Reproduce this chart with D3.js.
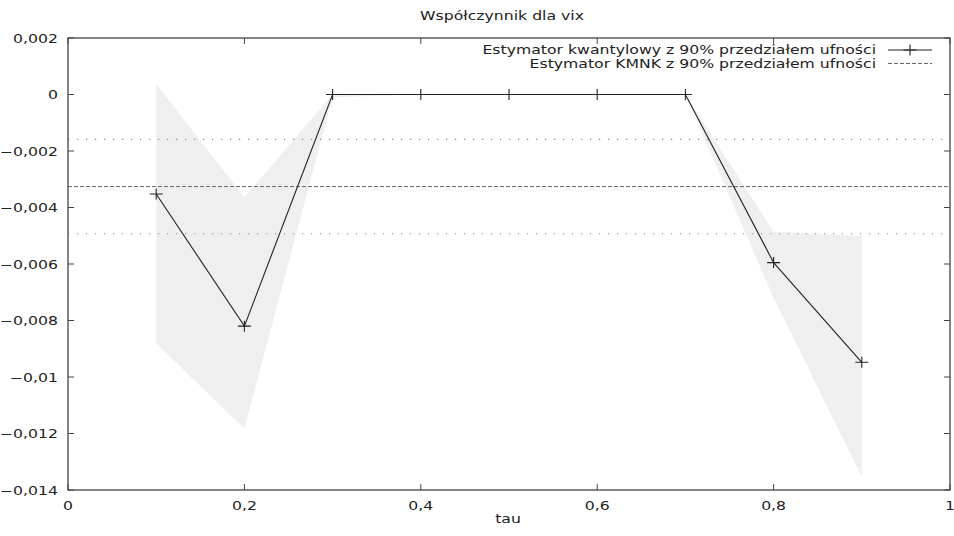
<!DOCTYPE html>
<html><head><meta charset="utf-8">
<script src="https://cdn.jsdelivr.net/npm/d3@7"></script>
<style>body{margin:0;background:#fff}svg{display:block}text{font-family:"DejaVu Sans",Verdana,sans-serif;fill:#222}</style>
</head><body><svg id="c" width="954" height="536"></svg>
<script>
const taus = [0.1, 0.2, 0.3, 0.4, 0.5, 0.6, 0.7, 0.8, 0.9];
const quantEst = [-0.00352, -0.0082, 0, 0, 0, 0, 0, -0.00595, -0.00948];
const quantUpper = [0.00037, -0.00364, 0, 0, 0, 0, 0, -0.00486, -0.00501];
const quantLower = [-0.00881, -0.01182, -0.0001, 0, 0, 0, 0, -0.0072, -0.01353];
const olsEst = -0.00326;
const olsLower = -0.00493;
const olsUpper = -0.00159;
const xTicks = [0, 0.2, 0.4, 0.6, 0.8, 1];
const yTicks = [0.002, 0, -0.002, -0.004, -0.006, -0.008, -0.01, -0.012, -0.014];
const title = "Współczynnik dla vix";
const xLabel = "tau";
const legendLabels = ["Estymator kwantylowy z 90% przedziałem ufności", "Estymator KMNK z 90% przedziałem ufności"];

const svg = d3.select("#c");
const L = 68, R = 950, T = 38, B = 490;
const x = d3.scaleLinear().domain([0, 1]).range([L, R]);
const y = d3.scaleLinear().domain([-0.014, 0.002]).range([B, T]);
const SX = 1.33, FS = 11.8;
const fmt = v => (v === 0 ? "0" : d3.format("")(+v.toFixed(3))).replace(".", ",").replace("-", "\u2212");

function label(px, py, str, anchor) {
  svg.append("text")
    .attr("transform", `translate(${px},${py}) scale(${SX},1)`)
    .attr("text-anchor", anchor)
    .attr("font-size", FS)
    .text(str);
}

// band
const bandData = taus.map((t, i) => ({t, lo: quantLower[i], hi: quantUpper[i]}));
svg.append("path").datum(bandData)
  .attr("d", d3.area().x(d => x(d.t)).y0(d => y(d.lo)).y1(d => y(d.hi)))
  .attr("fill", "#efefef");

// OLS lines
[olsUpper, olsLower].forEach(v => {
  svg.append("line").attr("x1", L).attr("x2", R).attr("y1", y(v)).attr("y2", y(v))
    .attr("stroke", "#888").attr("stroke-width", 1.2).attr("stroke-dasharray", "1.2,7.8");
});
svg.append("line").attr("x1", L).attr("x2", R).attr("y1", y(olsEst)).attr("y2", y(olsEst))
  .attr("stroke", "#666").attr("stroke-width", 1).attr("stroke-dasharray", "4,2");

// quantile line
const pts = taus.map((t, i) => ({t, v: quantEst[i]}));
svg.append("path").datum(pts)
  .attr("d", d3.line().x(d => x(d.t)).y(d => y(d.v)))
  .attr("fill", "none").attr("stroke", "#222").attr("stroke-width", 1.1);
const plus = (cx, cy) => `M${cx - 6.5},${cy}H${cx + 6.5}M${cx},${cy - 5.5}V${cy + 5.5}`;
svg.append("g").selectAll("path").data(pts).join("path")
  .attr("d", d => plus(x(d.t), y(d.v)))
  .attr("stroke", "#222").attr("stroke-width", 1.1).attr("fill", "none");

// border and ticks
svg.append("rect").attr("x", L).attr("y", T).attr("width", R - L).attr("height", B - T)
  .attr("fill", "none").attr("stroke", "#444").attr("stroke-width", 1.3);
const tk = 6;
xTicks.forEach(t => {
  svg.append("line").attr("x1", x(t)).attr("x2", x(t)).attr("y1", B).attr("y2", B - tk).attr("stroke", "#444");
  svg.append("line").attr("x1", x(t)).attr("x2", x(t)).attr("y1", T).attr("y2", T + tk).attr("stroke", "#444");
  label(x(t), 509.5, fmt(t), "middle");
});
yTicks.forEach(v => {
  svg.append("line").attr("x1", L).attr("x2", L + tk).attr("y1", y(v)).attr("y2", y(v)).attr("stroke", "#444");
  svg.append("line").attr("x1", R).attr("x2", R - tk).attr("y1", y(v)).attr("y2", y(v)).attr("stroke", "#444");
  label(58, y(v) + 4.5, fmt(v), "end");
});

// title & axis label
label(502, 20, title, "middle");
label(508, 523, xLabel, "middle");

// legend
label(876, 54, legendLabels[0], "end");
label(876, 68, legendLabels[1], "end");
svg.append("line").attr("x1", 888).attr("x2", 932).attr("y1", 50).attr("y2", 50).attr("stroke", "#222").attr("stroke-width", 1.1);
svg.append("path").attr("d", plus(910, 50)).attr("stroke", "#222").attr("stroke-width", 1.1);
svg.append("line").attr("x1", 888).attr("x2", 932).attr("y1", 63.5).attr("y2", 63.5).attr("stroke", "#666").attr("stroke-dasharray", "4,2");
</script></body></html>
